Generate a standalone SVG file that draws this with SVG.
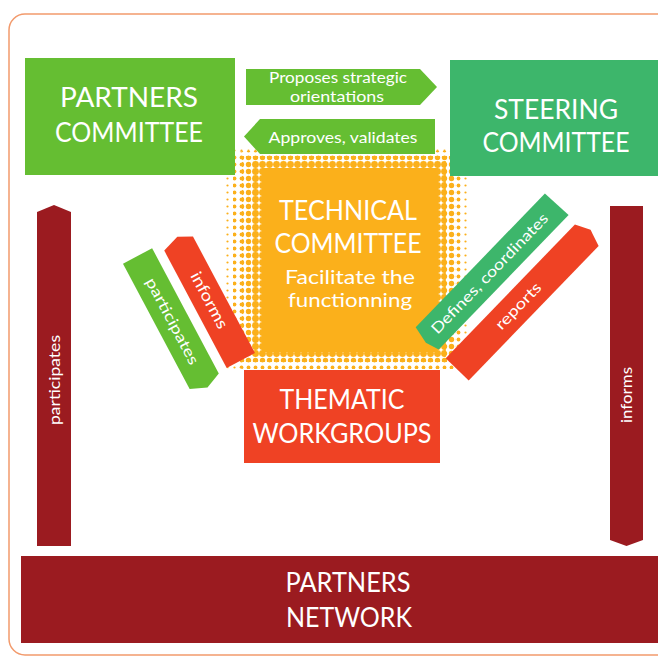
<svg xmlns="http://www.w3.org/2000/svg" width="658" height="657" viewBox="0 0 658 657">
<style>
text{font-family:Lato,"Open Sans","DejaVu Sans",sans-serif;fill:#fff;text-anchor:middle}
.big{font-size:27px}
.mid{font-size:19px}
.sm{font-size:15px}
.lg{fill:#65be32}
.dg{fill:#3db66b}
.rd{fill:#ef4224}
.dr{fill:#9b1b20}
</style>
<defs>
<pattern id="d1" patternUnits="userSpaceOnUse" width="7" height="7"><circle cx="3.5" cy="3.5" r="1.1" fill="#fbb01b"/></pattern>
<pattern id="d2" patternUnits="userSpaceOnUse" width="7" height="7"><circle cx="3.5" cy="3.5" r="1.9" fill="#fbb01b"/></pattern>
<pattern id="d3" patternUnits="userSpaceOnUse" width="7" height="7"><circle cx="3.5" cy="3.5" r="2.7" fill="#fbb01b"/></pattern>
<pattern id="d4" patternUnits="userSpaceOnUse" width="7" height="7"><circle cx="3.5" cy="3.5" r="3.4" fill="#fbb01b"/></pattern>
</defs>
<rect x="9" y="14" width="700" height="641" rx="16" fill="none" stroke="#f29a6c" stroke-width="1.5"/>

<g id="technical">
<rect x="224" y="147" width="246" height="226" rx="14" fill="url(#d1)"/>
<rect x="233" y="151" width="230" height="218" rx="10" fill="url(#d2)"/>
<rect x="242" y="156" width="214" height="206" fill="url(#d3)"/>
<rect x="252" y="161" width="194" height="196" fill="url(#d4)"/>
<rect x="262" y="168" width="176" height="184" fill="#fbb01b"/>
<text class="big" x="348" y="220" textLength="138" lengthAdjust="spacingAndGlyphs">TECHNICAL</text>
<text class="big" x="348" y="253" textLength="147" lengthAdjust="spacingAndGlyphs">COMMITTEE</text>
<text class="mid" x="350" y="284" textLength="130" lengthAdjust="spacingAndGlyphs">Facilitate the</text>
<text class="mid" x="350" y="307" textLength="124" lengthAdjust="spacingAndGlyphs">functionning</text>
</g>

<g id="partners-committee">
<rect class="lg" x="25" y="58" width="210" height="117"/>
<text class="big" x="129" y="107" textLength="138" lengthAdjust="spacingAndGlyphs">PARTNERS</text>
<text class="big" x="129" y="142" textLength="148" lengthAdjust="spacingAndGlyphs">COMMITTEE</text>
</g>

<g id="steering-committee">
<rect class="dg" x="450" y="60" width="215" height="116"/>
<text class="big" x="556" y="119" textLength="124" lengthAdjust="spacingAndGlyphs">STEERING</text>
<text class="big" x="556" y="152" textLength="147" lengthAdjust="spacingAndGlyphs">COMMITTEE</text>
</g>

<g id="thematic-workgroups">
<rect class="rd" x="244" y="370" width="196" height="93"/>
<text class="big" x="342" y="409" textLength="125" lengthAdjust="spacingAndGlyphs">THEMATIC</text>
<text class="big" x="342" y="443" textLength="179" lengthAdjust="spacingAndGlyphs">WORKGROUPS</text>
</g>

<g id="partners-network">
<rect class="dr" x="21" y="556" width="640" height="87"/>
<text class="big" x="348" y="592" textLength="125" lengthAdjust="spacingAndGlyphs">PARTNERS</text>
<text class="big" x="349" y="627" textLength="126" lengthAdjust="spacingAndGlyphs">NETWORK</text>
</g>

<g id="connectors">
<g id="proposes">
<polygon class="lg" points="246,69 420,69 437,87 420,105 246,105"/>
<text class="sm" x="338" y="83" textLength="138" lengthAdjust="spacingAndGlyphs">Proposes strategic</text>
<text class="sm" x="337" y="102" textLength="94" lengthAdjust="spacingAndGlyphs">orientations</text>
</g>
<g id="approves">
<polygon class="lg" points="260,119 435,119 435,154 260,154 244,136.5"/>
<text class="sm" x="343" y="143" textLength="149" lengthAdjust="spacingAndGlyphs" style="font-size:16px">Approves, validates</text>
</g>
<g id="participates-diag" transform="translate(172.3,321.3) rotate(62)">
<polygon class="lg" points="-74,-16.5 68,-16.5 75,0 68,16.5 -74,16.5"/>
<text class="sm" x="0" y="5" textLength="96" lengthAdjust="spacingAndGlyphs">participates</text>
</g>
<g id="informs-diag" transform="translate(208.9,300.5) rotate(62)">
<polygon class="rd" points="-71,-2 -64,-16 68,-16 68,16 -65,16"/>
<text class="sm" x="0" y="5" textLength="62" lengthAdjust="spacingAndGlyphs" style="font-size:16px">informs</text>
</g>
<g id="defines-diag" transform="translate(491.8,271.5) rotate(-46)">
<polygon class="dg" points="-93,-16 93,-16 94,16 -93,16 -97,2"/>
<text class="sm" x="-3" y="5" textLength="161" lengthAdjust="spacingAndGlyphs">Defines, coordinates</text>
</g>
<g id="reports-diag" transform="translate(521.8,302.5) rotate(-46)">
<polygon class="rd" points="-93,-16 93,-16 100,-1 94,16 -93,16"/>
<text class="sm" x="-5" y="5" textLength="59" lengthAdjust="spacingAndGlyphs">reports</text>
</g>
<g id="participates-vert">
<polygon class="dr" points="37,212 54,205 71,212 71,546 37,546"/>
<text class="sm" transform="translate(60,380) rotate(-90)" x="0" y="0" textLength="90" lengthAdjust="spacingAndGlyphs">participates</text>
</g>
<g id="informs-vert">
<polygon class="dr" points="610,206 643,206 643,540 626.5,546 610,540"/>
<text class="sm" transform="translate(632,395) rotate(-90)" x="0" y="0" textLength="56" lengthAdjust="spacingAndGlyphs">informs</text>
</g>
</g>
</svg>
